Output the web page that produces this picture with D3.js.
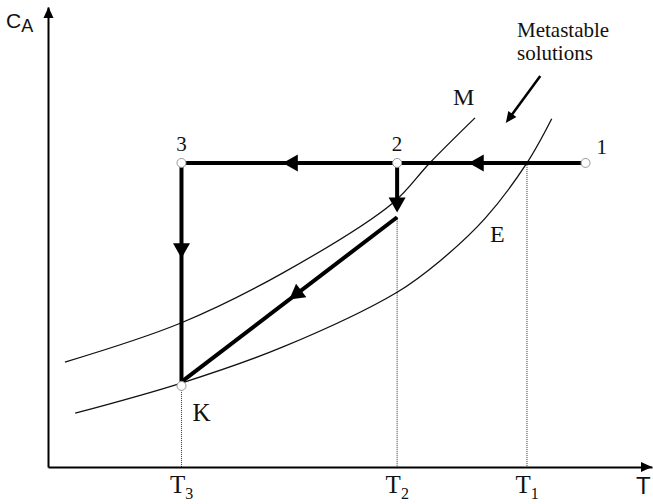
<!DOCTYPE html>
<html>
<head>
<meta charset="utf-8">
<script src="https://cdn.jsdelivr.net/npm/d3@7"></script>
<style>
  html, body { margin: 0; padding: 0; background: #fff; }
  svg { display: block; }
  .serif { font-family: "Liberation Serif", "Times New Roman", serif; fill: #111; }
  .sans { font-family: "Liberation Sans", Arial, sans-serif; fill: #111; }
</style>
</head>
<body>
<svg id="chart" width="653" height="504"></svg>
<script>
// Solubility diagram: concentration c_A against temperature T
// Temperatures marked on the T axis (T3 < T2 < T1)
const tempValues = [22.1, 57.8, 79.3];
const tempSubs = ["3", "2", "1"];

// Metastable limit curve M (temperature, concentration)
const curveM = [[2.8, 22.8], [22.0, 31.3], [38.9, 42.2], [57.1, 57.4], [63.2, 66.1], [70.7, 75.9]];
// Equilibrium solubility curve E
const curveE = [[4.5, 11.7], [22.2, 18.3], [38.9, 26.1], [57.8, 38.0], [64.9, 44.8], [72.4, 54.1], [79.3, 66.1], [83.4, 75.7]];

// States of the crystallisation process
const stateNames = ["1", "2", "3", "K"];
const stateT = [89.0, 57.8, 22.1, 22.1];
const stateC = [66.1, 66.1, 66.1, 18.5];

// End of the drop below state 2 and start of the growth line to K
const dropEndC = 55.3;
const growthStartC = 54.3;

// Pointer to the metastable region
const pointerFrom = [81.5, 85.0];
const pointerTo = [75.8, 74.8];

const svg = d3.select("#chart");
const x = d3.scaleLinear().domain([0, 100]).range([48, 652]);
const y = d3.scaleLinear().domain([0, 100]).range([467, 7]);

// ---- dotted guide lines down to the T axis
const guideTop = [stateC[3], growthStartC, stateC[0]];
svg.append("g").selectAll("line")
  .data(tempValues)
  .join("line")
  .attr("x1", d => x(d)).attr("x2", d => x(d))
  .attr("y1", (d, i) => y(guideTop[i]) + (i === 0 ? 4 : 0))
  .attr("y2", y(0))
  .attr("stroke", "#333")
  .attr("stroke-width", 1)
  .attr("stroke-dasharray", "1,1");

// ---- curves M and E
const line = d3.line().x(d => x(d[0])).y(d => y(d[1])).curve(d3.curveCatmullRom.alpha(0.5));
svg.append("path").datum(curveM).attr("d", line)
  .attr("fill", "none").attr("stroke", "#111").attr("stroke-width", 1.3);
svg.append("path").datum(curveE).attr("d", line)
  .attr("fill", "none").attr("stroke", "#111").attr("stroke-width", 1.3);

// ---- axes
const xAxis = d3.axisBottom(x).tickValues(tempValues).tickSize(0).tickSizeOuter(0).tickPadding(0).tickFormat(() => "");
const gx = svg.append("g").attr("transform", `translate(0,${y(0)})`).call(xAxis);
gx.select(".domain").attr("stroke", "#000").attr("stroke-width", 2);
gx.selectAll(".tick text").remove();
gx.selectAll(".tick").each(function (d, i) {
  const t = d3.select(this).append("text")
    .attr("class", "serif")
    .attr("x", -12).attr("y", 26)
    .attr("text-anchor", "start")
    .attr("font-size", 25);
  t.append("tspan").text("T");
  t.append("tspan").attr("font-size", 16).attr("dy", 6).text(tempSubs[i]);
});

const yAxis = d3.axisLeft(y).tickValues([]).tickSizeOuter(0);
const gy = svg.append("g").attr("transform", `translate(${x(0)},0)`).call(yAxis);
gy.select(".domain").attr("stroke", "#000").attr("stroke-width", 2);

// axis arrowheads
function arrowHead(tip, dir, len, half) {
  const n = [-dir[1], dir[0]];
  const b = [tip[0] - dir[0] * len, tip[1] - dir[1] * len];
  return `M${tip[0]},${tip[1]}L${b[0] + n[0] * half},${b[1] + n[1] * half}L${b[0] - n[0] * half},${b[1] - n[1] * half}Z`;
}
svg.append("path").attr("d", arrowHead([x(0) + 0.5, y(100)], [0, -1], 11, 5)).attr("fill", "#000");
svg.append("path").attr("d", arrowHead([x(100), y(0)], [1, 0], 11, 5)).attr("fill", "#000");

// axis titles
const ca = svg.append("text").attr("class", "sans").attr("x", 6).attr("y", 28).attr("font-size", 21);
ca.append("tspan").text("C");
ca.append("tspan").attr("font-size", 18).attr("dy", 4).text("A");
svg.append("text").attr("class", "sans").attr("x", 636).attr("y", 494).attr("font-size", 24).text("T");

// ---- process path
const P = i => [x(stateT[i]), y(stateC[i])];
const segments = [
  { a: P(0), b: P(1), at: 0.62 },
  { a: P(1), b: P(2), at: 0.53 },
  { a: P(2), b: P(3), at: 0.435 },
  { a: P(1), b: [x(stateT[1]), y(dropEndC)], at: 1 },
  { a: [x(stateT[1]), y(growthStartC)], b: P(3), at: 0.5 }
];
const gPath = svg.append("g");
segments.forEach(s => {
  const dx = s.b[0] - s.a[0], dy = s.b[1] - s.a[1];
  const L = Math.hypot(dx, dy);
  const dir = [dx / L, dy / L];
  const endPt = s.at === 1 ? [s.b[0] - dir[0] * 8, s.b[1] - dir[1] * 8] : s.b;
  gPath.append("line")
    .attr("x1", s.a[0]).attr("y1", s.a[1])
    .attr("x2", endPt[0]).attr("y2", endPt[1])
    .attr("stroke", "#000").attr("stroke-width", 4).attr("stroke-linecap", "butt");
  const tip = [s.a[0] + dx * s.at, s.a[1] + dy * s.at];
  gPath.append("path").attr("d", arrowHead(tip, dir, 15, 8.5)).attr("fill", "#000");
});
// square corner at state 3
gPath.append("rect").attr("x", P(2)[0] - 2).attr("y", P(2)[1] - 2).attr("width", 4).attr("height", 4).attr("fill", "#000");

// state markers
svg.append("g").selectAll("circle")
  .data(stateNames)
  .join("circle")
  .attr("cx", (d, i) => x(stateT[i]))
  .attr("cy", (d, i) => y(stateC[i]) + (d === "K" ? 4 : 0))
  .attr("r", 4.5)
  .attr("fill", "#fff")
  .attr("stroke", "#999")
  .attr("stroke-width", 1);

// state labels
const labelOffset = { "1": [11, -9, "start"], "2": [0, -12, "middle"], "3": [0, -12, "middle"], "K": [11, 39, "start"] };
svg.append("g").selectAll("text")
  .data(stateNames)
  .join("text")
  .attr("class", "serif")
  .attr("x", (d, i) => x(stateT[i]) + labelOffset[d][0])
  .attr("y", (d, i) => y(stateC[i]) + labelOffset[d][1])
  .attr("text-anchor", d => labelOffset[d][2])
  .attr("font-size", d => d === "K" ? 25 : 21)
  .text(d => d);

// curve labels
svg.append("text").attr("class", "serif").attr("x", 453).attr("y", 105).attr("font-size", 24).text("M");
svg.append("text").attr("class", "serif").attr("x", 490).attr("y", 242).attr("font-size", 24).text("E");

// metastable region note
svg.append("text").attr("class", "serif").attr("x", 517).attr("y", 37).attr("font-size", 21).text("Metastable");
svg.append("text").attr("class", "serif").attr("x", 517).attr("y", 60).attr("font-size", 21).text("solutions");
{
  const a = [x(pointerFrom[0]), y(pointerFrom[1])];
  const b = [x(pointerTo[0]), y(pointerTo[1])];
  const dx = b[0] - a[0], dy = b[1] - a[1], L = Math.hypot(dx, dy);
  const dir = [dx / L, dy / L];
  svg.append("line").attr("x1", a[0]).attr("y1", a[1])
    .attr("x2", b[0] - dir[0] * 8).attr("y2", b[1] - dir[1] * 8)
    .attr("stroke", "#000").attr("stroke-width", 2.5);
  svg.append("path").attr("d", arrowHead(b, dir, 11, 5)).attr("fill", "#000");
}
</script>
</body>
</html>
